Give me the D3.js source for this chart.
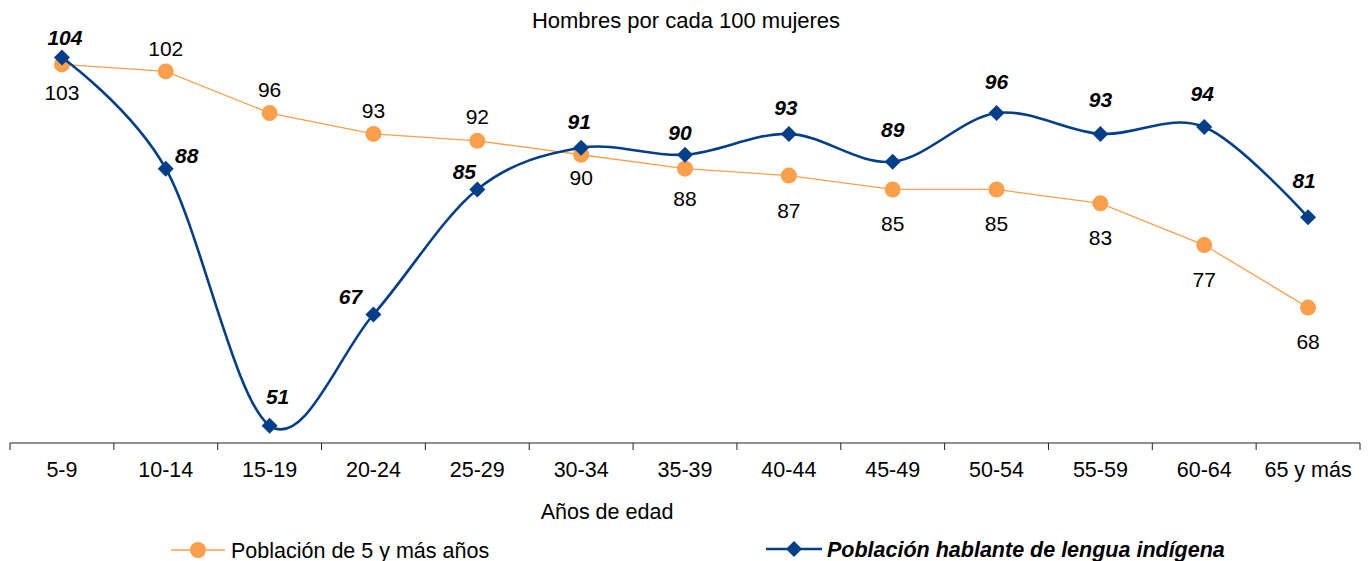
<!DOCTYPE html>
<html>
<head>
<meta charset="utf-8">
<script src="https://cdn.jsdelivr.net/npm/d3@7"></script>
<style>
  body { margin: 0; background: #fff; }
  svg { font-family: "Liberation Sans", Arial, sans-serif; }
</style>
</head>
<body>
<svg width="1369" height="561"></svg>
<script>
// data
var ageGroups = ["5-9", "10-14", "15-19", "20-24", "25-29", "30-34", "35-39",
                 "40-44", "45-49", "50-54", "55-59", "60-64", "65 y más"];
var totalPop = [103, 102, 96, 93, 92, 90, 88, 87, 85, 85, 83, 77, 68];
var indigenousPop = [104, 88, 51, 67, 85, 91, 90, 93, 89, 96, 93, 94, 81];

var titleText = "Hombres por cada 100 mujeres";
var xTitle = "Años de edad";
var seriesNames = ["Población de 5 y más años", "Población hablante de lengua indígena"];

// label nudges (pixels), like the hand-moved labels in the original
var totalLabelDy = [28, -23, -24, -23, -24, 23, 30, 35, 34, 34, 34, 34, 34];
var indLabelDx = [3, 21, 8, -23, -13, -2, -5, -3, 0, 0, 0, -2, -4];
var indLabelDy = [-20, -13, -29, -18, -18, -26, -22, -26, -32, -32, -34, -33, -37];

var orange = "#FAA04C";
var navy = "#023F88";
var fs = 21.5;

var svg = d3.select("svg");

var x = d3.scaleBand().domain(ageGroups).range([10, 1360]);
var y = d3.scaleLinear().domain([48.5, 104]).range([443, 57.5]);
var cx = function(d, i) { return x(ageGroups[i]) + x.bandwidth() / 2; };

// title
svg.append("text")
    .attr("x", 686).attr("y", 28)
    .attr("text-anchor", "middle")
    .style("font-size", "22px")
    .text(titleText);

// x axis
var axis = svg.append("g").attr("transform", "translate(0,443)");
axis.append("line")
    .attr("x1", 10).attr("x2", 1360)
    .attr("stroke", "#222").attr("stroke-width", 1);
var bounds = ageGroups.map(function(c) { return x(c); }).concat([x.range()[1]]);
axis.selectAll("line.tick").data(bounds).enter().append("line")
    .attr("class", "tick")
    .attr("x1", function(d) { return d; }).attr("x2", function(d) { return d; })
    .attr("y1", 0).attr("y2", 7)
    .attr("stroke", "#222");
axis.selectAll("text").data(ageGroups).enter().append("text")
    .attr("x", function(d) { return x(d) + x.bandwidth() / 2; })
    .attr("y", 34)
    .attr("text-anchor", "middle")
    .style("font-size", fs + "px")
    .text(function(d) { return d; });

svg.append("text")
    .attr("x", 607).attr("y", 519)
    .attr("text-anchor", "middle")
    .style("font-size", fs + "px")
    .text(xTitle);

// orange series
var line1 = d3.line().x(cx).y(function(d) { return y(d); });
svg.append("path").datum(totalPop)
    .attr("d", line1)
    .attr("fill", "none").attr("stroke", orange).attr("stroke-width", 1.3);
svg.selectAll("circle.tot").data(totalPop).enter().append("circle")
    .attr("class", "tot")
    .attr("cx", cx).attr("cy", function(d) { return y(d); })
    .attr("r", 8).attr("fill", orange);
svg.selectAll("text.tot").data(totalPop).enter().append("text")
    .attr("class", "tot")
    .attr("x", cx)
    .attr("y", function(d, i) { return y(d) + totalLabelDy[i] + 7.5; })
    .attr("text-anchor", "middle")
    .style("font-size", "21px")
    .text(function(d) { return d; });

// navy series, smoothed
var line2 = d3.line().x(cx).y(function(d) { return y(d); })
    .curve(d3.curveCardinal.tension(0));
svg.append("path").datum(indigenousPop)
    .attr("d", line2)
    .attr("fill", "none").attr("stroke", navy).attr("stroke-width", 2.6);
var diamond = d3.symbol().type(d3.symbolSquare).size(128);
svg.selectAll("path.ind").data(indigenousPop).enter().append("path")
    .attr("class", "ind")
    .attr("d", diamond)
    .attr("transform", function(d, i) { return "translate(" + cx(d, i) + "," + y(d) + ") rotate(45)"; })
    .attr("fill", navy);
svg.selectAll("text.ind").data(indigenousPop).enter().append("text")
    .attr("class", "ind")
    .attr("x", function(d, i) { return cx(d, i) + indLabelDx[i]; })
    .attr("y", function(d, i) { return y(d) + indLabelDy[i] + 7.5; })
    .attr("text-anchor", "middle")
    .style("font-size", "21px")
    .style("font-weight", "bold").style("font-style", "italic")
    .text(function(d) { return d; });

// legend
var lg1 = svg.append("g").attr("transform", "translate(171,550)");
lg1.append("line").attr("x1", 0).attr("x2", 54)
    .attr("stroke", orange).attr("stroke-width", 1.3);
lg1.append("circle").attr("cx", 27).attr("r", 8).attr("fill", orange);
lg1.append("text").attr("x", 60).attr("y", 7.5)
    .style("font-size", fs + "px").text(seriesNames[0]);

var lg2 = svg.append("g").attr("transform", "translate(766,549)");
lg2.append("line").attr("x1", 0).attr("x2", 56)
    .attr("stroke", navy).attr("stroke-width", 2.6);
lg2.append("path").attr("d", diamond)
    .attr("transform", "translate(28,0) rotate(45)").attr("fill", navy);
lg2.append("text").attr("x", 61).attr("y", 7.5)
    .style("font-size", fs + "px")
    .style("font-weight", "bold").style("font-style", "italic")
    .text(seriesNames[1]);
</script>
</body>
</html>
